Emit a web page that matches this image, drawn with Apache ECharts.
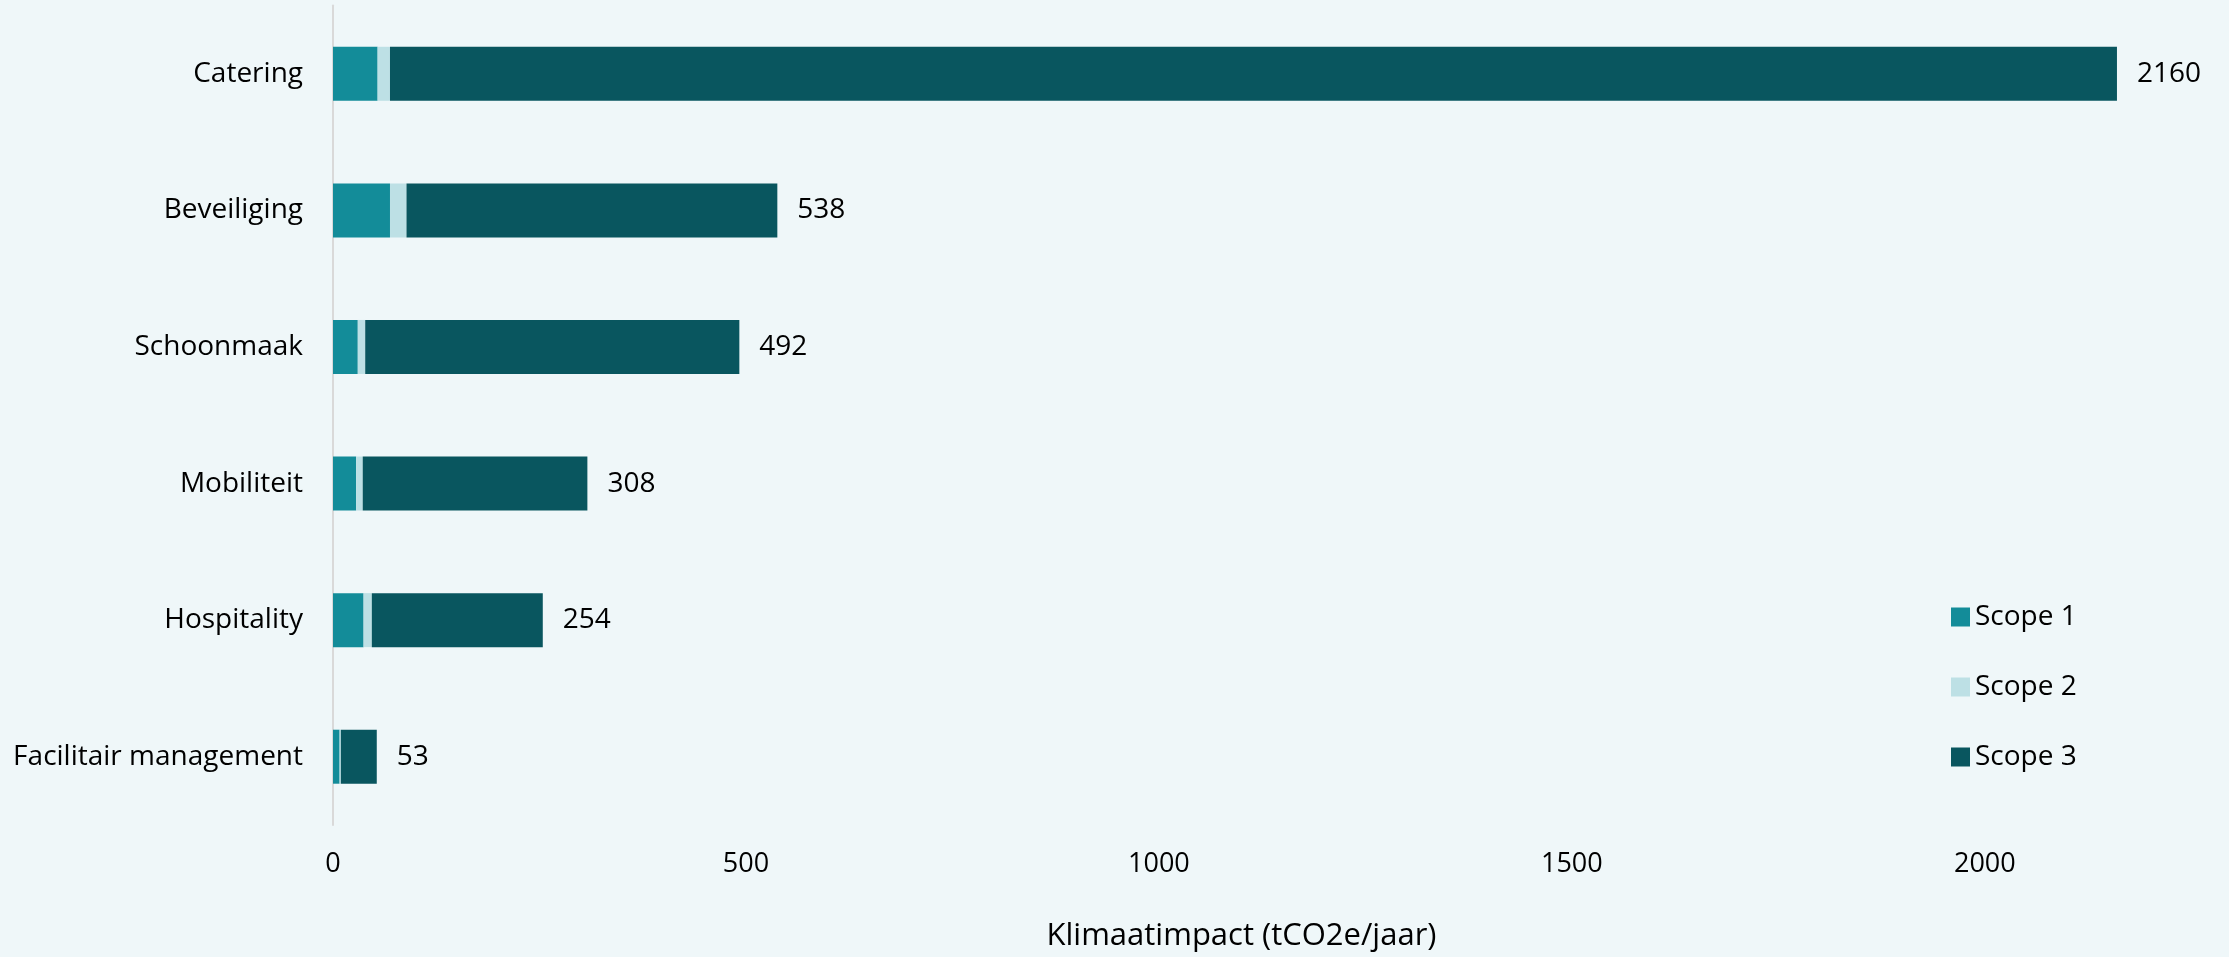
<!DOCTYPE html>
<html>
<head>
<meta charset="utf-8">
<script src="https://cdn.jsdelivr.net/npm/echarts@6/dist/echarts.min.js"></script>
<style>
html,body{margin:0;padding:0;background:#eff7f9;}
#c{width:2229px;height:957px;}
</style>
</head>
<body>
<div id="c"></div>
<script>
const categories = ['Catering', 'Beveiliging', 'Schoonmaak', 'Mobiliteit', 'Hospitality', 'Facilitair management'];
const scope1 = [54, 69, 30, 28, 37, 8];
const scope2 = [15, 20, 9, 8, 10, 1.5];
const scope3 = [2091, 449, 453, 272, 207, 43.5];
const totals = [2160, 538, 492, 308, 254, 53];
const seriesNames = ['Scope 1', 'Scope 2', 'Scope 3'];
const xTicks = [0, 500, 1000, 1500, 2000];
const axisTitle = 'Klimaatimpact (tCO2e/jaar)';

const FONT = 'Open Sans';
const chart = echarts.init(document.getElementById('c'), null, {renderer: 'canvas'});
const colors = ['#138c99', '#bde0e5', '#09565f'];
const vals = [scope1, scope2, scope3];

chart.setOption({
  backgroundColor: '#eff7f9',
  textStyle: {fontFamily: FONT, color: '#000'},
  grid: {left: 333, right: 79, top: 5.5, bottom: 129.5, containLabel: false},
  legend: {
    data: seriesNames,
    orient: 'vertical',
    left: 1946,
    top: 597,
    itemWidth: 19,
    itemHeight: 19,
    itemGap: 40,
    icon: 'rect',
    textStyle: {fontFamily: FONT, fontSize: 28, lineHeight: 30, color: '#000', padding: [0, 0, 0, 0]}
  },
  xAxis: {
    type: 'value',
    min: 0,
    max: 2200,
    interval: 500,
    splitLine: {show: false},
    axisLine: {show: false},
    axisTick: {show: false},
    axisLabel: {
      showMaxLabel: false,
      margin: 26,
      fontFamily: FONT, fontSize: 27, color: '#000',
      formatter: v => xTicks.includes(v) ? String(v) : ''
    },
    name: axisTitle,
    nameLocation: 'middle',
    nameGap: 96,
    nameTextStyle: {fontFamily: FONT, fontSize: 31, color: '#000'}
  },
  yAxis: {
    type: 'category',
    data: categories,
    inverse: true,
    axisLine: {show: true, lineStyle: {color: '#d9d9d9', width: 2}},
    axisTick: {show: false},
    axisLabel: {margin: 30, fontFamily: FONT, fontSize: 28, color: '#000'}
  },
  series: seriesNames.map((n, i) => ({
    name: n,
    type: 'bar',
    stack: 'total',
    barWidth: 54,
    itemStyle: {color: colors[i]},
    data: vals[i],
    label: i === 2 ? {
      show: true,
      position: 'right',
      distance: 20,
      fontFamily: FONT, fontSize: 28, color: '#000',
      formatter: p => String(totals[p.dataIndex])
    } : {show: false}
  }))
});
</script>
</body>
</html>
